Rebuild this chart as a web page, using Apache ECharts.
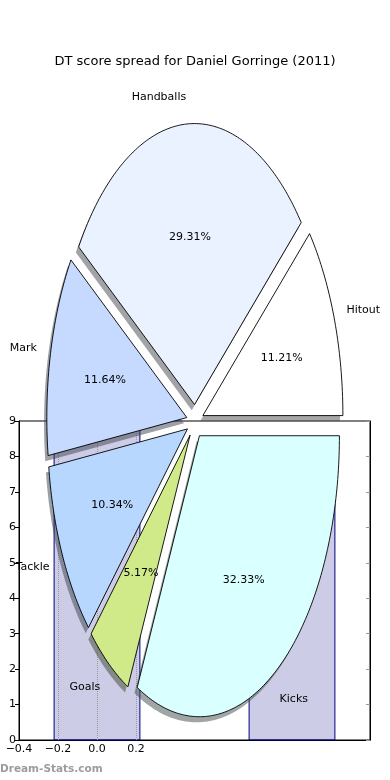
<!DOCTYPE html>
<html><head><meta charset="utf-8">
<script src="https://cdn.jsdelivr.net/npm/echarts/dist/echarts.min.js"></script>
<style>html,body{margin:0;padding:0;background:#fff}#c{width:390px;height:780px}</style>
</head><body><div id="c"></div>
<script>
// ---- data ----
const titleText = 'DT score spread for Daniel Gorringe (2011)';
const sliceLabels = ['Hitout', 'Handballs', 'Mark', 'Tackle', 'Goals', 'Kicks'];
const slicePercents = [11.21, 29.31, 11.64, 10.34, 5.17, 32.33];
const sliceColors = ['#ffffff', '#eaf1ff', '#c6d9ff', '#b7d7ff', '#d0ea8a', '#d9ffff'];
const barX = [0, 1];
const barHeights = [8.8, 8.3];
const barWidthData = 0.44;
const xTickValues = [-0.4, -0.2, 0.0, 0.2];
const yTickValues = [0, 1, 2, 3, 4, 5, 6, 7, 8, 9];

// ---- pie layout (matplotlib-like elliptical pie) ----
const PIE = { cx: 195, cy: 421.4, rx: 140, ry: 281, explode: 0.06, shadow: 0.02, labelDist: 1.1, pctDist: 0.6 };
const total = slicePercents.reduce((a, b) => a + b, 0);
const startAngles = [];
(function () { let acc = 0; slicePercents.forEach(v => { startAngles.push(acc); acc += 360 * v / total; }); })();

function hexToRgb(h) { h = h.replace('#', ''); return [0, 2, 4].map(i => parseInt(h.substr(i, 2), 16)); }

function renderPie(params, api) {
  const i = params.dataIndex;
  const v = api.value(0);
  const a1 = startAngles[i], a2 = a1 + 360 * v / total;
  const m = (a1 + a2) / 2 * Math.PI / 180;
  const ox = PIE.cx + PIE.explode * PIE.rx * Math.cos(m);
  const oy = PIE.cy - PIE.explode * PIE.ry * Math.sin(m);
  const pts = [[ox, oy]];
  const n = Math.max(10, Math.ceil(a2 - a1));
  for (let k = 0; k <= n; k++) {
    const t = (a1 + (a2 - a1) * k / n) * Math.PI / 180;
    pts.push([ox + PIE.rx * Math.cos(t), oy - PIE.ry * Math.sin(t)]);
  }
  const sdx = -PIE.shadow * PIE.rx, sdy = PIE.shadow * PIE.ry;
  const spts = pts.map(p => [p[0] + sdx, p[1] + sdy]);
  const rgb = hexToRgb(sliceColors[i]).map(c => Math.round(c * 0.3));
  const shadowColor = 'rgba(' + rgb.join(',') + ',0.5)';
  const c = Math.cos(m), s = Math.sin(m);
  const lx = ox + PIE.labelDist * PIE.rx * c, ly = oy - PIE.labelDist * PIE.ry * s;
  const px = ox + PIE.pctDist * PIE.rx * c, py = oy - PIE.pctDist * PIE.ry * s;
  return {
    type: 'group',
    children: [
      { type: 'polygon', z2: 2 * i, shape: { points: spts }, style: { fill: shadowColor, stroke: null } },
      { type: 'polygon', z2: 2 * i + 1, shape: { points: pts }, style: { fill: sliceColors[i], stroke: '#000', lineWidth: 0.9 } },
      { type: 'text', z2: 100, style: { text: sliceLabels[i], x: lx - (c > 0 ? 1 : 0), y: ly + 1, align: c > 0 ? 'left' : 'right', verticalAlign: 'middle', font: '11px "DejaVu Sans"', fill: '#000' } },
      { type: 'text', z2: 100, style: { text: v.toFixed(2) + '%', x: px, y: py + 1, align: 'center', verticalAlign: 'middle', font: '11px "DejaVu Sans"', fill: '#000' } }
    ]
  };
}

function renderBar(params, api) {
  const x = api.value(0), h = api.value(1);
  const p1 = api.coord([x - barWidthData / 2, h]);
  const p2 = api.coord([x + barWidthData / 2, 0]);
  const cs = params.coordSys;
  const rect = echarts.graphic.clipRectByRect(
    { x: p1[0], y: p1[1], width: p2[0] - p1[0], height: p2[1] - p1[1] },
    { x: cs.x, y: cs.y, width: cs.width, height: cs.height });
  if (!rect) return;
  return { type: 'rect', shape: rect, style: { fill: 'rgba(0,0,128,0.2)', stroke: '#000080', lineWidth: 1 } };
}

const fmtTick = v => (Math.abs(v) < 1e-9 ? 0 : v).toFixed(1).replace('-', '\u2212');

const chart = echarts.init(document.getElementById('c'), null, { renderer: 'canvas' });
chart.setOption({
  animation: false,
  backgroundColor: '#fff',
  title: {
    text: titleText, left: 'center', top: 50,
    textStyle: { fontFamily: 'DejaVu Sans', fontSize: 13, fontWeight: 'normal', color: '#000' }
  },
  graphic: [{
    type: 'text', left: 0, top: 764,
    style: { text: 'Dream-Stats.com', font: 'bold 10.5px "DejaVu Sans"', fill: '#9c9c9c' }
  }],
  grid: { left: 19, right: 20, top: 421, bottom: 40, show: true, borderColor: '#000', borderWidth: 1, backgroundColor: 'transparent' },
  xAxis: {
    type: 'value', min: -0.4, max: 1.4, interval: 0.2,
    axisLine: { show: true, onZero: false, lineStyle: { color: '#000' } },
    axisTick: { show: false },
    splitLine: { show: false },
    axisLabel: {
      margin: 4, color: '#000', fontFamily: 'DejaVu Sans', fontSize: 11, showMaxLabel: false,
      formatter: v => (xTickValues.some(t => Math.abs(t - v) < 1e-6) ? fmtTick(v) : '')
    }
  },
  yAxis: [{
    type: 'value', position: 'left', min: yTickValues[0], max: yTickValues[yTickValues.length - 1], interval: 1,
    axisLine: { show: true, onZero: false, lineStyle: { color: '#000' } },
    axisTick: { show: true, inside: false, length: 4, lineStyle: { color: '#000' } },
    splitLine: { show: false },
    axisLabel: { margin: 3, color: '#000', fontFamily: 'DejaVu Sans', fontSize: 11 }
  }, {
    type: 'value', position: 'right', min: yTickValues[0], max: yTickValues[yTickValues.length - 1], interval: 1,
    axisLine: { show: true, onZero: false, lineStyle: { color: '#000' } },
    axisTick: { show: true, inside: true, length: 4, lineStyle: { color: '#999' } },
    splitLine: { show: false },
    axisLabel: { show: false }
  }],
  series: [{
    type: 'custom', name: 'bars', coordinateSystem: 'cartesian2d', z: 2,
    renderItem: renderBar, encode: { x: 0, y: 1 },
    data: barX.map((x, i) => [x, barHeights[i]]),
    markLine: {
      silent: true, symbol: 'none', label: { show: false },
      lineStyle: { type: 'dotted', color: '#9a9a9a', width: 1 },
      data: xTickValues.filter(v => v > -0.39).map(v => ({ xAxis: v }))
    }
  }, {
    type: 'custom', name: 'pie', coordinateSystem: 'none', z: 10,
    renderItem: renderPie,
    data: slicePercents.map((v, i) => ({ name: sliceLabels[i], value: [v] }))
  }]
});
</script>
</body></html>
